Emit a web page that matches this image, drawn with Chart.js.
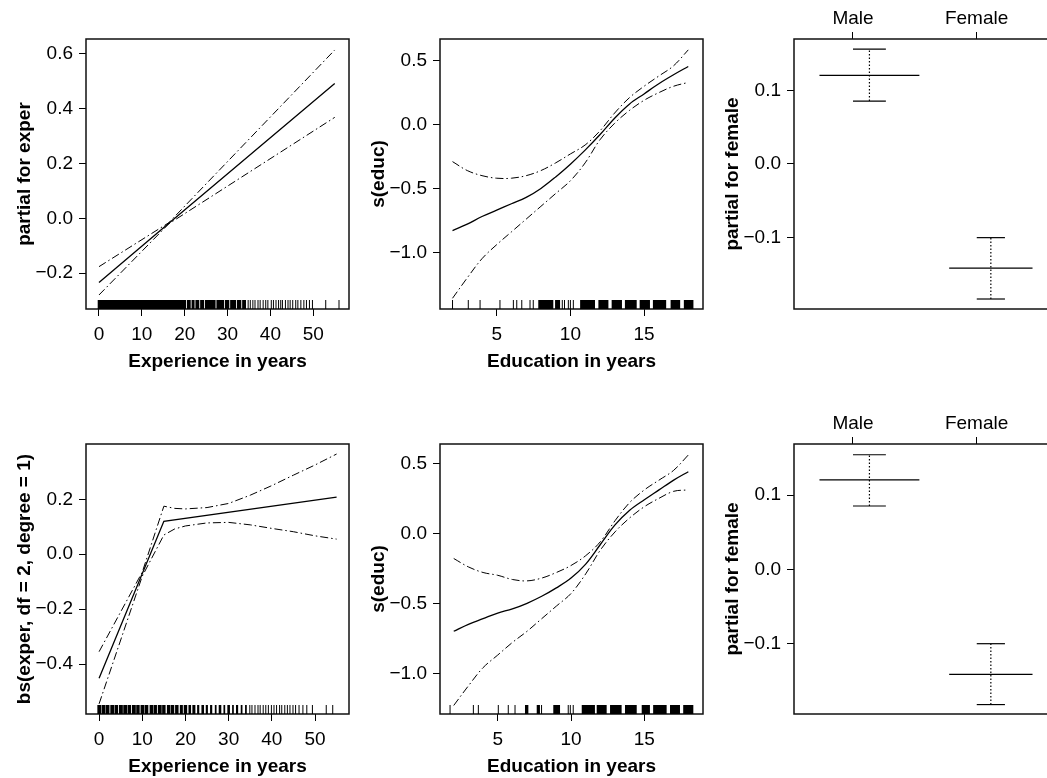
<!DOCTYPE html>
<html>
<head>
<meta charset="utf-8">
<script src="https://cdn.jsdelivr.net/npm/chart.js@4.4.1/dist/chart.umd.min.js"></script>
<style>
html, body { margin: 0; padding: 0; background: #fff; overflow: hidden; }
body { width: 1047px; height: 778px; position: relative; }
canvas { position: absolute; }
</style>
</head>
<body>
<canvas id="p1"></canvas>
<canvas id="p2"></canvas>
<canvas id="p3"></canvas>
<canvas id="p4"></canvas>
<canvas id="p5"></canvas>
<canvas id="p6"></canvas>
<script>
// ---- data ----
const experTicks = [0, 10, 20, 30, 40, 50]
const educTicks = [5, 10, 15]

// top left: linear term for exper
const exper1X = [0, 16.3, 55]
const exper1Fit = [-0.234, -0.018, 0.49]
const exper1Upper = [-0.176, -0.016, 0.612]
const exper1Lower = [-0.279, -0.020, 0.367]
const exper1Ticks = [-0.2, 0, 0.2, 0.4, 0.6]

// top middle: s(educ)
const educX = [2, 3, 4, 5, 6, 7, 8, 9, 10, 11, 12, 13, 14, 15, 16, 17, 18]
const educFit1 = [-0.83, -0.78, -0.72, -0.67, -0.62, -0.57, -0.50, -0.41, -0.31, -0.20, -0.08, 0.05, 0.16, 0.24, 0.32, 0.39, 0.455]
const educUpper1 = [-0.29, -0.36, -0.40, -0.42, -0.42, -0.40, -0.36, -0.30, -0.23, -0.16, -0.05, 0.09, 0.21, 0.30, 0.38, 0.46, 0.585]
const educLower1 = [-1.36, -1.20, -1.05, -0.94, -0.84, -0.74, -0.64, -0.54, -0.44, -0.30, -0.12, 0.01, 0.11, 0.19, 0.25, 0.30, 0.33]
const educYTicks = [-1, -0.5, 0, 0.5]

// right column: factor female
const sexLevels = ["Male", "Female"]
const sexTickPos = [1, 2]
const sexCenter = [1.133, 2.115]
const sexHalfWidth = [0.404, 0.337]
const sexCapHalf = [0.133, 0.114]
const sexTerm1 = [0.1204, -0.142]
const sexUpper1 = [0.156, -0.1005]
const sexLower1 = [0.0854, -0.184]
const sexTerm2 = [0.1207, -0.1414]
const sexUpper2 = [0.1545, -0.100]
const sexLower2 = [0.0855, -0.182]
const sexYTicks = [-0.1, 0, 0.1]

// bottom left: bs(exper, df = 2, degree = 1)
const bsFitX = [0, 15, 55]
const bsFit = [-0.452, 0.12, 0.208]
const bsBandX = [0, 10, 15, 17.5, 20, 25, 30, 35, 40, 45, 50, 55]
const bsUpper = [-0.355, -0.065, 0.175, 0.167, 0.165, 0.170, 0.185, 0.215, 0.250, 0.288, 0.325, 0.365]
const bsLower = [-0.545, -0.080, 0.070, 0.092, 0.103, 0.114, 0.116, 0.107, 0.094, 0.082, 0.067, 0.055]
const bsTicks = [-0.4, -0.2, 0, 0.2]

// bottom middle: s(educ)
const educFit2 = [-0.70, -0.65, -0.61, -0.57, -0.54, -0.50, -0.45, -0.39, -0.32, -0.22, -0.08, 0.06, 0.165, 0.24, 0.31, 0.38, 0.44]
const educUpper2 = [-0.18, -0.24, -0.28, -0.30, -0.33, -0.34, -0.32, -0.28, -0.23, -0.16, -0.06, 0.09, 0.22, 0.31, 0.38, 0.45, 0.56]
const educLower2 = [-1.23, -1.09, -0.96, -0.87, -0.78, -0.70, -0.61, -0.52, -0.43, -0.29, -0.12, 0.01, 0.11, 0.19, 0.25, 0.30, 0.31]

// rugs: solid runs [from, to] and single ticks
const experRug1Blocks = [[-0.3, 20.3], [20.5, 21.4], [21.6, 22.3], [22.5, 23.4], [23.6, 24.5], [24.7, 27.2], [27.4, 29.2], [29.4, 30.4], [30.6, 32.0], [32.2, 33.2], [33.4, 34.3]]
const experRug1Lines = [34.8, 35.3, 35.9, 36.4, 37.1, 37.6, 38.3, 38.9, 39.4, 40.2, 40.7, 41.3, 41.9, 42.4, 42.8, 43.5, 44.1, 44.6, 45.2, 45.9, 46.4, 47.1, 47.8, 48.4, 49.1, 49.8, 52.9, 56.0]
const educRug1Blocks = [[7.82, 8.84], [8.96, 9.3], [10.66, 11.67], [11.9, 12.58], [12.8, 13.5], [13.7, 14.5], [14.7, 15.4], [15.6, 16.5], [16.8, 17.45], [17.7, 18.35]]
const educRug1Lines = [2.0, 3.07, 3.87, 5.22, 6.13, 6.36, 6.7, 7.26, 7.48, 9.45, 9.6, 9.86, 10.0, 10.2]
const experRug2Blocks = [[-0.4, 0.5], [0.6, 1.5], [1.6, 2.4], [2.6, 3.5], [3.6, 4.4], [4.6, 5.5], [5.6, 6.5], [6.6, 7.4], [7.6, 8.5], [8.6, 9.4], [9.6, 10.5], [10.6, 11.4], [11.7, 12.5], [12.6, 13.4], [13.6, 14.5], [14.6, 15.4], [15.7, 16.5], [16.6, 17.4], [17.6, 18.4], [18.7, 19.4], [19.6, 20.4], [20.7, 21.3], [21.6, 22.3], [22.7, 23.2], [23.7, 24.3], [24.7, 25.2], [25.7, 26.2], [26.8, 27.2], [27.7, 28.3], [28.8, 29.2], [29.7, 30.3], [30.8, 31.2], [31.7, 32.2], [32.8, 33.2], [33.8, 34.2]]
const experRug2Lines = [34.9, 35.4, 36.1, 36.8, 37.3, 38.0, 38.6, 39.2, 39.9, 40.5, 41.1, 41.8, 42.3, 43.0, 43.6, 44.2, 44.9, 45.5, 46.3, 47.2, 48.1, 49.4, 52.6, 54.1]
const educRug2Blocks = [[6.86, 7.09], [7.66, 7.88], [8.79, 9.25], [10.73, 11.63], [11.75, 12.43], [12.66, 13.45], [13.68, 14.48], [14.82, 15.38], [15.6, 16.52], [16.75, 17.43], [17.65, 18.34]]
const educRug2Lines = [1.75, 3.34, 3.68, 5.04, 5.72, 6.18, 7.99, 9.81, 9.95, 10.15]

// ---- drawing ----
Chart.defaults.font.family = "'Liberation Sans', Arial, Helvetica, sans-serif"
Chart.defaults.color = "#000"

const DASHDOT = [8, 3, 1.5, 3]
const fmt = v => (v < 0 ? "\u2212" : "") + Math.abs(v).toFixed(1)

function line(xs, ys, dash, width, tension) {
    return {
        data: xs.map((x, i) => ({ x: x, y: ys[i] })),
        borderColor: "#000",
        borderWidth: width || 1,
        borderDash: dash || [],
        pointRadius: 0,
        fill: false,
        tension: tension || 0
    }
}

const boxPlugin = {
    id: "box",
    afterDatasetsDraw(chart) {
        const { ctx, chartArea: a } = chart
        ctx.save()
        ctx.strokeStyle = "#111"
        ctx.lineWidth = 1.5
        ctx.strokeRect(a.left, a.top, a.right - a.left, a.bottom - a.top)
        ctx.restore()
    }
}

function rugPlugin(blocks, lines) {
    return {
        id: "rug",
        afterDatasetsDraw(chart) {
            const x = chart.scales.x, b = chart.chartArea.bottom, ctx = chart.ctx
            ctx.save()
            ctx.fillStyle = "#000"
            blocks.forEach(r => {
                const p1 = x.getPixelForValue(r[0]), p2 = x.getPixelForValue(r[1])
                ctx.fillRect(p1, b - 9, p2 - p1, 9)
            })
            ctx.strokeStyle = "#000"
            ctx.lineWidth = 1
            ctx.beginPath()
            lines.forEach(v => {
                const p = x.getPixelForValue(v)
                ctx.moveTo(p, b)
                ctx.lineTo(p, b - 9)
            })
            ctx.stroke()
            ctx.restore()
        }
    }
}

// box = [left, top, right, bottom] of the plot frame on the page
function panel(id, box, cfg) {
    const cv = document.getElementById(id)
    cv.width = box[2] - box[0] + 97
    cv.height = box[3] - box[1] + 120
    cv.style.left = (box[0] - 86) + "px"
    cv.style.top = (box[1] - 39) + "px"
    const onTop = cfg.xPos === "top"
    const plugins = [boxPlugin]
    if (cfg.rug) plugins.push(rugPlugin(cfg.rug[0], cfg.rug[1]))
    new Chart(cv, {
        type: "line",
        data: { datasets: cfg.datasets },
        options: {
            responsive: false,
            animation: false,
            events: [],
            layout: { padding: { left: 13, right: 11, top: onTop ? 0 : 39, bottom: onTop ? 81 : 17 } },
            plugins: { legend: { display: false }, tooltip: { enabled: false } },
            scales: {
                x: {
                    type: "linear",
                    position: onTop ? "top" : "bottom",
                    min: cfg.xRange[0], max: cfg.xRange[1],
                    afterBuildTicks: s => { s.ticks = cfg.xTicks.map(v => ({ value: v })) },
                    afterFit: s => { s.height = onTop ? 39 : 64 },
                    grid: { drawOnChartArea: false, tickLength: 7, color: "#000" },
                    border: { display: false },
                    ticks: {
                        color: "#000", font: { size: 19 }, padding: onTop ? 2 : 7,
                        maxRotation: 0, autoSkip: false,
                        callback: cfg.xLabel || (v => String(v))
                    },
                    title: {
                        display: !!cfg.xTitle, text: cfg.xTitle || "",
                        color: "#000", font: { size: 19, weight: "bold" }, padding: 0
                    }
                },
                y: {
                    type: "linear",
                    min: cfg.yRange[0], max: cfg.yRange[1],
                    afterBuildTicks: s => { s.ticks = cfg.yTicks.map(v => ({ value: v })) },
                    afterFit: s => { s.width = 73 },
                    grid: { drawOnChartArea: false, tickLength: 7, color: "#000" },
                    border: { display: false },
                    ticks: { color: "#000", font: { size: 19 }, padding: 6, autoSkip: false, callback: v => fmt(v) },
                    title: {
                        display: true, text: cfg.yTitle,
                        color: "#000", font: { size: 19, weight: "bold" }, padding: 0
                    }
                }
            }
        },
        plugins: plugins
    })
}

function sexDatasets(term, upper, lower) {
    const ds = []
    sexLevels.forEach((lev, i) => {
        const c = sexCenter[i], hw = sexHalfWidth[i], ch = sexCapHalf[i]
        ds.push(line([c - hw, c + hw], [term[i], term[i]], [], 1.3))
        ds.push(line([c - ch, c + ch], [upper[i], upper[i]], [], 1.2))
        ds.push(line([c - ch, c + ch], [lower[i], lower[i]], [], 1.2))
        ds.push(line([c, c], [lower[i], upper[i]], [1.5, 2], 1.2))
    })
    return ds
}

panel("p1", [86, 39, 349, 309], {
    xRange: [-3.03, 58.33], yRange: [-0.33, 0.652],
    xTicks: experTicks, yTicks: exper1Ticks,
    xTitle: "Experience in years", yTitle: "partial for exper",
    rug: [experRug1Blocks, experRug1Lines],
    datasets: [
        line(exper1X, exper1Fit, [], 1.3),
        line(exper1X, exper1Upper, DASHDOT, 1),
        line(exper1X, exper1Lower, DASHDOT, 1)
    ]
})

panel("p2", [440, 39, 703, 309], {
    xRange: [1.15, 19.0], yRange: [-1.444, 0.67],
    xTicks: educTicks, yTicks: educYTicks,
    xTitle: "Education in years", yTitle: "s(educ)",
    rug: [educRug1Blocks, educRug1Lines],
    datasets: [
        line(educX, educFit1, [], 1.3, 0.35),
        line(educX, educUpper1, DASHDOT, 1, 0.35),
        line(educX, educLower1, DASHDOT, 1, 0.35)
    ]
})

panel("p3", [794, 39, 1057, 309], {
    xPos: "top",
    xRange: [0.523, 2.65], yRange: [-0.1976, 0.1698],
    xTicks: sexTickPos, yTicks: sexYTicks,
    xLabel: (v, i) => sexLevels[i],
    yTitle: "partial for female",
    datasets: sexDatasets(sexTerm1, sexUpper1, sexLower1)
})

panel("p4", [86, 444, 349, 714], {
    xRange: [-3.03, 57.87], yRange: [-0.582, 0.4015],
    xTicks: experTicks, yTicks: bsTicks,
    xTitle: "Experience in years", yTitle: "bs(exper, df = 2, degree = 1)",
    rug: [experRug2Blocks, experRug2Lines],
    datasets: [
        line(bsFitX, bsFit, [], 1.3),
        line(bsBandX, bsUpper, DASHDOT, 1),
        line(bsBandX, bsLower, DASHDOT, 1)
    ]
})

panel("p5", [440, 444, 703, 714], {
    xRange: [1.064, 19.0], yRange: [-1.291, 0.638],
    xTicks: educTicks, yTicks: educYTicks,
    xTitle: "Education in years", yTitle: "s(educ)",
    rug: [educRug2Blocks, educRug2Lines],
    datasets: [
        line(educX, educFit2, [], 1.3, 0.35),
        line(educX, educUpper2, DASHDOT, 1, 0.35),
        line(educX, educLower2, DASHDOT, 1, 0.35)
    ]
})

panel("p6", [794, 444, 1057, 714], {
    xPos: "top",
    xRange: [0.523, 2.65], yRange: [-0.1947, 0.169],
    xTicks: sexTickPos, yTicks: sexYTicks,
    xLabel: (v, i) => sexLevels[i],
    yTitle: "partial for female",
    datasets: sexDatasets(sexTerm2, sexUpper2, sexLower2)
})
</script>
</body>
</html>
